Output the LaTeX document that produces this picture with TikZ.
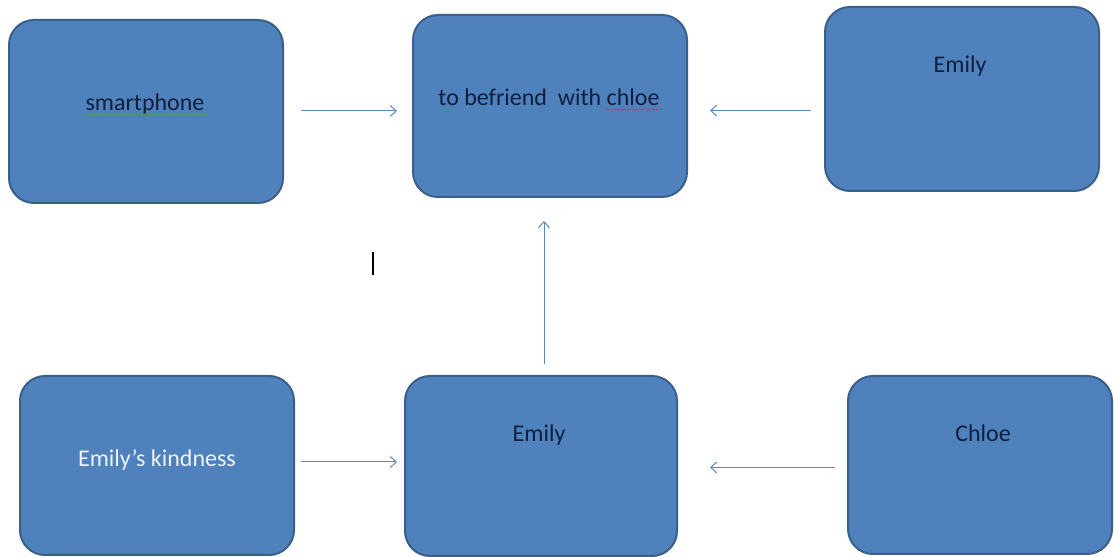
\documentclass[tikz,border=0pt]{standalone}
\usepackage{fontspec}
\setmainfont{Carlito}
\usetikzlibrary{arrows.meta,decorations.pathmorphing}
\definecolor{boxfill}{HTML}{4F81BD}
\definecolor{boxline}{HTML}{3A5F8B}
\definecolor{arrcol}{HTML}{5C88BE}
\definecolor{txtdark}{HTML}{0F1F3D}
\definecolor{txtlight}{HTML}{EEF3FA}
\definecolor{sqgreen}{HTML}{3FA652}
\definecolor{sqred}{HTML}{D8343A}
\begin{document}
\begin{tikzpicture}[x=1pt,y=1pt,
  box/.style={draw=boxline, line width=2pt, fill=boxfill, rounded corners=25pt, inner sep=0pt},
  lbl/.style={inner sep=0pt, anchor=base, font=\fontsize{24}{28}\selectfont, text=txtdark},
  arr/.style={draw=arrcol, line width=1pt, -{Straight Barb[length=6pt,width=11pt,line width=1pt]}},
  squig/.style={decorate, decoration={snake, segment length=3pt, amplitude=0.7pt}, line width=0.6pt}]
\useasboundingbox (0,0) rectangle (1114,557);
\fill[white] (0,0) rectangle (1114,557);
% boxes
\node[box, minimum width=274pt, minimum height=183pt] (sp)  at (146,445.5) {};
\node[box, minimum width=274pt, minimum height=182pt] (bf)  at (550,451) {};
\node[box, minimum width=274pt, minimum height=184pt] (em1) at (962,458) {};
\node[box, minimum width=274pt, minimum height=179pt] (kd)  at (157,91.5) {};
\node[box, minimum width=272pt, minimum height=180pt] (em2) at (541,91) {};
\node[box, minimum width=264pt, minimum height=178pt] (ch)  at (980,92) {};
% labels
\node[lbl] (tsp)  at (145,446) {smartphone};
\node[lbl] (tbf)  at (549,451.5) {to befriend\ \ with chloe};
\node[lbl] (tem1) at (960,484) {Emily};
\node[lbl, text=txtlight] (tkd) at (157,90.5) {Emily’s kindness};
\node[lbl] (tem2) at (539,115.5) {Emily};
\node[lbl] (tch)  at (983,115.5) {Chloe};
% spell-check squiggles
\draw[squig, draw=sqgreen] (84,442.5) -- (207,442.5);
\draw[squig, draw=sqgreen] (438,447.5) -- (457,447.5);
\draw[squig, draw=sqred] (606,447.5) -- (661,447.5);
% text cursor
\draw[line width=2pt, black] (373,282) -- (373,305);
% connectors
\draw[arr, shorten <=17pt, shorten >=15pt] (sp.east |- 0,446) -- (bf.west |- 0,446);
\draw[arr, shorten <=13pt, shorten >=22pt] (em1.west |- 0,446.5) -- (bf.east |- 0,446.5);
\draw[arr, shorten <=11pt, shorten >=23pt] (em2.north -| 544,0) -- (bf.south -| 544,0);
\draw[arr, shorten <=6pt, shorten >=7pt] (kd.east |- 0,95) -- (em2.west |- 0,95);
\draw[arr, shorten <=12pt, shorten >=32pt] (ch.west |- 0,89.5) -- (em2.east |- 0,89.5);
\end{tikzpicture}
\end{document}
